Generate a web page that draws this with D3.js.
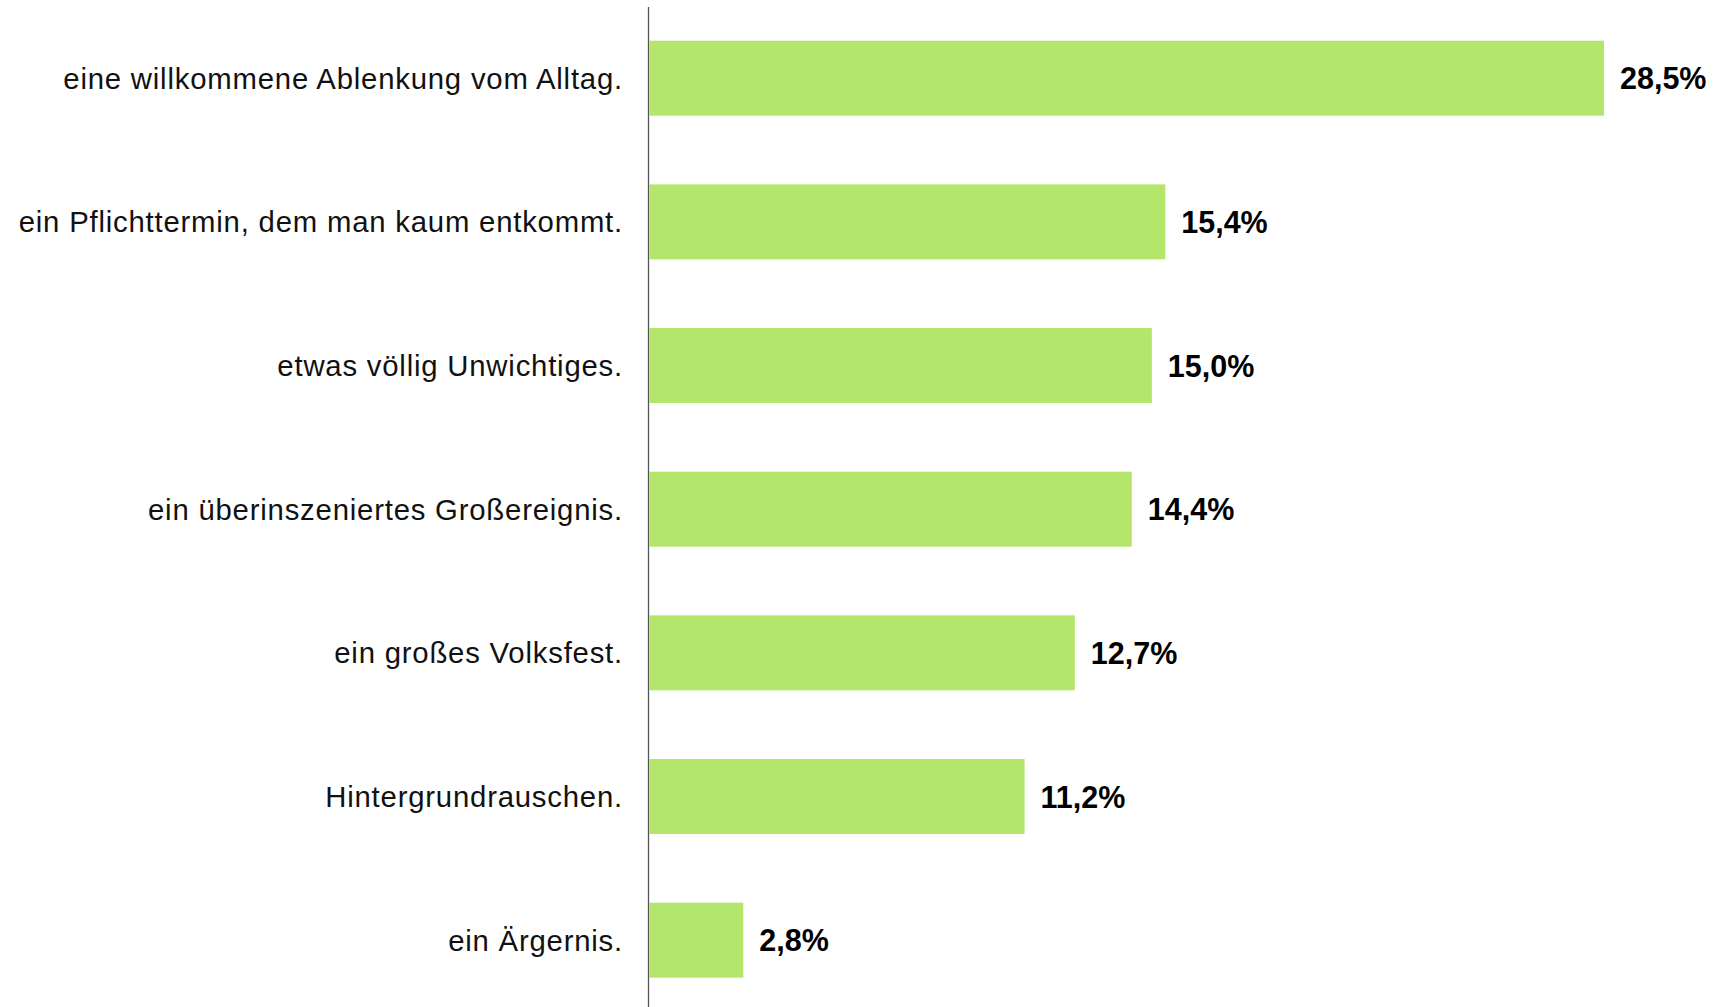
<!DOCTYPE html>
<html><head><meta charset="utf-8">
<script src="https://cdn.jsdelivr.net/npm/d3@7"></script>
<style>body{margin:0;background:#fff}svg{display:block}</style>
</head><body>
<script>
const categories = [
  "eine willkommene Ablenkung vom Alltag.",
  "ein Pflichttermin, dem man kaum entkommt.",
  "etwas völlig Unwichtiges.",
  "ein überinszeniertes Großereignis.",
  "ein großes Volksfest.",
  "Hintergrundrauschen.",
  "ein Ärgernis."
];
const values = [28.5, 15.4, 15.0, 14.4, 12.7, 11.2, 2.8];
const valueLabels = ["28,5%", "15,4%", "15,0%", "14,4%", "12,7%", "11,2%", "2,8%"];

const W = 1713, H = 1007;
const svg = d3.select("body").append("svg").attr("width", W).attr("height", H);
const x0 = 649.5;
const x = d3.scaleLinear().domain([0, 28.5]).range([x0, 1604]);
const y = d3.scaleBand().domain(categories).range([6.4, 1012]).paddingInner(0.478).paddingOuter(0.239);

const data = categories.map((c, i) => ({c, v: values[i], l: valueLabels[i]}));

svg.selectAll("rect.bar").data(data).join("rect")
  .attr("class", "bar")
  .attr("x", x(0))
  .attr("y", d => y(d.c))
  .attr("width", d => x(d.v) - x(0))
  .attr("height", y.bandwidth())
  .attr("fill", "#b3e66b");

svg.append("line")
  .attr("x1", 648.5).attr("x2", 648.5)
  .attr("y1", 7).attr("y2", H)
  .attr("stroke", "#555").attr("stroke-width", 1.3);

svg.selectAll("text.cat").data(data).join("text")
  .attr("class", "cat")
  .attr("x", 623)
  .attr("y", d => y(d.c) + y.bandwidth() / 2 + 10.5)
  .attr("text-anchor", "end")
  .attr("font-family", "Liberation Sans, Arial, sans-serif")
  .attr("font-size", 29.3)
  .attr("letter-spacing", "0.8px")
  .attr("fill", "#111")
  .text(d => d.c);

svg.selectAll("text.val").data(data).join("text")
  .attr("class", "val")
  .attr("x", d => x(d.v) + 16)
  .attr("y", d => y(d.c) + y.bandwidth() / 2 + 11)
  .attr("font-family", "Liberation Sans, Arial, sans-serif")
  .attr("font-size", 30.5)
  .attr("font-weight", "bold")
  .attr("fill", "#000")
  .text(d => d.l);
</script>
</body></html>
